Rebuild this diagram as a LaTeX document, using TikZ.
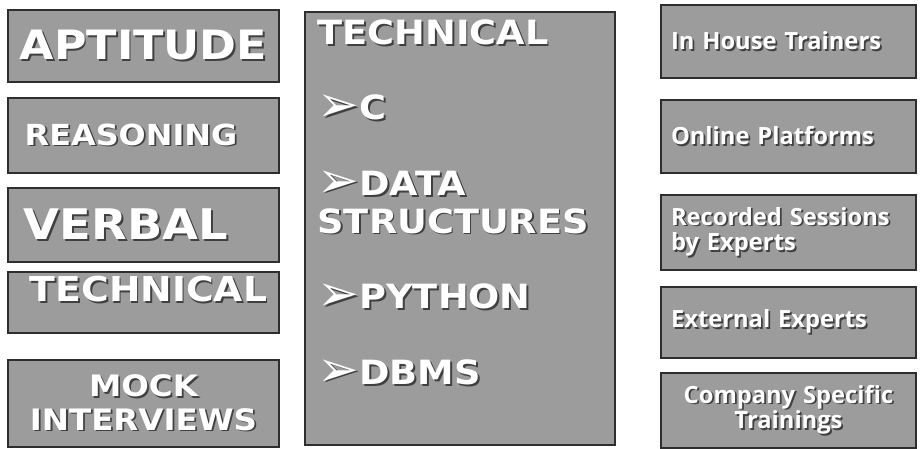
\documentclass[tikz,border=0pt]{standalone}
\usepackage{fontspec}
\usepackage{xcolor}
\usepackage{tikz}
\usetikzlibrary{positioning}
\setmainfont[FakeStretch=1.1]{DejaVu Sans}
\newfontfamily\rightfont{Open Sans}
\newfontfamily\arrowfont{DejaVu Sans}
\definecolor{boxgray}{HTML}{9C9C9C}
\definecolor{boxline}{HTML}{2E2E2E}
\newcommand{\sh}[1]{\makebox[0pt][l]{\hspace{1pt}\raisebox{-1pt}{\textcolor{black!75}{#1}}}#1}
\newcommand{\bul}{\raisebox{-1pt}{\scalebox{1.5}{\arrowfont ➢}}}
\tikzstyle{block} = [rectangle, draw=boxline, line width=1.3pt, fill=boxgray,
    text=white, font=\bfseries, inner sep=0pt, align=center]
\tikzstyle{leftblock} = [block, minimum width=5.42cm]
\tikzstyle{rightblock} = [block, minimum width=5.1cm, text width=4.7cm, align=left,
    font=\rightfont\bfseries\fontsize{13.5}{14.5}\selectfont]

\begin{document}
\begin{tikzpicture}[x=0.02cm, y=-0.02cm]
      \useasboundingbox (0,0) rectangle (920,449);
      % Place nodes
      \node [leftblock, minimum height=1.44cm, font=\bfseries\fontsize{23}{26}\selectfont] (aptitude) at (143.5,46) {\sh{APTITUDE}};
      \node [leftblock, minimum height=1.5cm, font=\bfseries\fontsize{16.5}{20}\selectfont] (reasoning) at (143.5,135.5) {\sh{REASONING}\hspace*{0.5cm}};
      \node [leftblock, minimum height=1.48cm, font=\bfseries\fontsize{24}{28}\selectfont] (verbal) at (143.5,225) {\sh{VERBAL}\hspace*{0.7cm}};
      \node [leftblock, minimum height=1.22cm, text depth=0.55cm, font=\bfseries\fontsize{19.5}{22}\selectfont] (techleft) at (143.5,302.5) {\hspace*{0.2cm}\sh{TECHNICAL}};
      \node [leftblock, minimum height=1.74cm, font=\bfseries\fontsize{16.8}{19}\selectfont] (mock) at (143.5,403.5) {\sh{MOCK}\\\sh{INTERVIEWS}};

      \node [block, minimum width=6.2cm, minimum height=8.66cm, align=left, font=\bfseries\fontsize{19}{21.5}\selectfont] (technical) at (460,228.5)
        {\parbox[c][8.5cm][t]{5.9cm}{\leftskip=0.1cm\vspace*{2pt}\sh{TECHNICAL}\\[21.5pt]
         \sh{\bul C}\\[21.5pt]
         \sh{\bul DATA}\\
         \sh{STRUCTURES}\\[21.5pt]
         \sh{\bul PYTHON}\\[21.5pt]
         \sh{\bul DBMS}}};

      \node [rightblock, minimum height=1.46cm] (inhouse) at (788.5,41.5) {\sh{In House Trainers}};
      \node [rightblock, minimum height=1.46cm] (online) at (788.5,136.5) {\sh{Online Platforms}};
      \node [rightblock, minimum height=1.5cm] (recorded) at (788.5,232.5) {\sh{Recorded Sessions}\\\sh{by Experts}};
      \node [rightblock, minimum height=1.42cm] (external) at (788.5,322.5) {\sh{External Experts}};
      \node [rightblock, minimum height=1.5cm, align=center] (company) at (788.5,410.5) {\sh{Company Specific}\\\sh{Trainings}};
    \end{tikzpicture}
\end{document}
